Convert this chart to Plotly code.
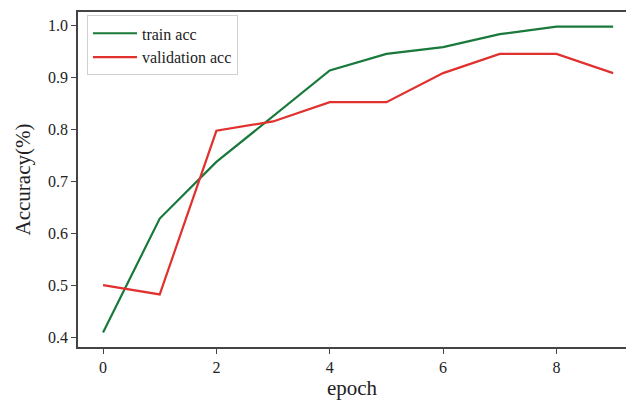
import plotly.graph_objects as go

epochs = [0, 1, 2, 3, 4, 5, 6, 7, 8, 9]
train_acc = [0.4085, 0.628, 0.737, 0.825, 0.913, 0.945, 0.958, 0.983, 0.9975, 0.9975]
val_acc = [0.500, 0.482, 0.797, 0.815, 0.852, 0.852, 0.908, 0.945, 0.945, 0.908]

x_ticks = [0, 2, 4, 6, 8]
y_ticks = [0.4, 0.5, 0.6, 0.7, 0.8, 0.9, 1.0]
y_tick_text = ["0.4", "0.5", "0.6", "0.7", "0.8", "0.9", "1.0"]

FONT = "Liberation Serif, Times New Roman, serif"
AXC = "#444444"

fig = go.Figure()
fig.add_trace(go.Scatter(x=epochs, y=train_acc, mode="lines", name="train acc",
                         line=dict(color="#18793a", width=2.2)))
fig.add_trace(go.Scatter(x=epochs, y=val_acc, mode="lines", name="validation acc",
                         line=dict(color="#e0312e", width=2.2)))

fig.update_layout(
    width=626, height=400,
    margin=dict(l=78, r=0, t=12, b=53),
    paper_bgcolor="white", plot_bgcolor="white",
    font=dict(family=FONT, size=16, color="#222222"),
    showlegend=True,
    legend=dict(x=0.0164, y=0.99, xanchor="left", yanchor="top",
                bgcolor="white", bordercolor="#d0d0d0", borderwidth=1,
                font=dict(family=FONT, size=16, color="#222222"),
                itemwidth=44),
    xaxis=dict(range=[-0.442, 9.227], tickvals=x_ticks, ticktext=[str(v) for v in x_ticks],
               showgrid=False, zeroline=False, showline=True, linecolor=AXC, linewidth=1.5,
               mirror=True, ticks="outside", ticklen=5, tickcolor=AXC, tickwidth=1.3,
               tickfont=dict(family=FONT, size=16),
               title=dict(text="epoch", font=dict(family=FONT, size=21), standoff=6)),
    yaxis=dict(range=[0.3808, 1.0256], tickvals=y_ticks, ticktext=y_tick_text,
               showgrid=False, zeroline=False, showline=True, linecolor=AXC, linewidth=1.5,
               mirror=False, ticks="outside", ticklen=5, tickcolor=AXC, tickwidth=1.3,
               tickfont=dict(family=FONT, size=16),
               title=dict(text="Accuracy(%)", font=dict(family=FONT, size=21), standoff=12)),
)

fig.write_html("out.html")
